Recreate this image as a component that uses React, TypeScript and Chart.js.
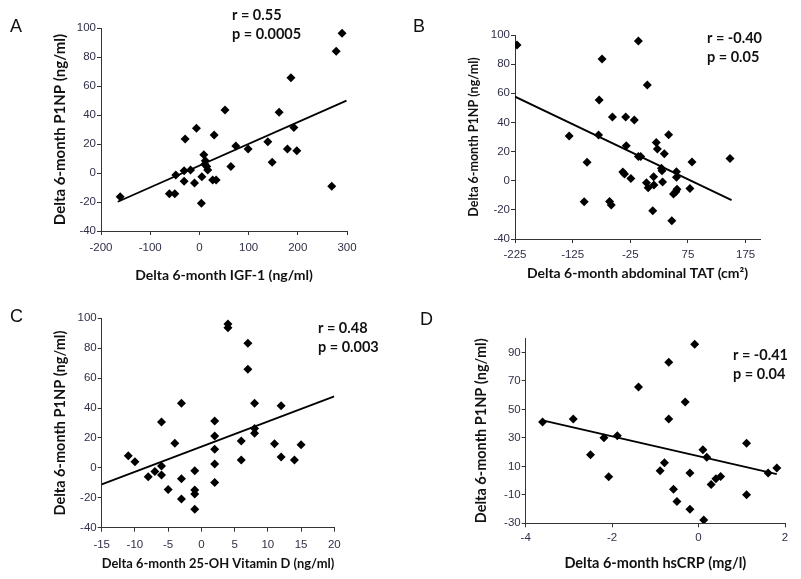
import React, { useEffect, useRef } from 'react';
import { Chart, registerables } from 'chart.js';
Chart.register(...registerables);

// ---------- Panel A: IGF-1 ----------
const aX = [-161, -61, -50, -48, -31, -31, -29, -18, -10, -6, 4, 5, 9, 12, 11, 15, 17, 30, 27, 34, 52, 64, 74, 99, 139, 148, 162, 179, 186, 192, 198, 269, 278, 290];
const aY = [-16.3, -14.3, -14.3, -1.4, 1.6, -5.7, 23.4, 2, -6.9, 30.8, -20.9, -2.5, 12.6, 8.5, 6, 4.5, 2, 26.2, -4.8, -4.8, 43.4, 4.4, 18.6, 16.6, 21.6, 7.4, 41.9, 16.6, 65.7, 31.3, 15.4, -9.2, 84, 96.3];
const aTrendX = [-166, 299];
const aTrendY = [-19.8, 49.9];
const aXTicks = [-200, -100, 0, 100, 200, 300];
const aYTicks = [-40, -20, 0, 20, 40, 60, 80, 100];

// ---------- Panel B: abdominal TAT ----------
const bX = [-221.5, -131, -100, -105, -80, -79, -74, -56, -61, -58, -38, -35, -32, -33, -24, -18, -11, -11, -7, 4.5, 3, 6, 14, 16, 15.5, 20, 22, 30, 29, 31, 34, 41.5, 47, 50, 54, 56, 55, 55, 78.5, 82, 148];
const bY = [93.1, 30.7, 12.6, -14.4, 31.3, 55.4, 83.5, 43.7, -14.2, -16.7, 5.9, 4.6, 24, 43.7, 1.6, 41.6, 95.9, 16.7, 16.7, 65.7, -1.4, -4.8, -20.6, -3, 2.7, 26.3, 21.7, 6.9, 8.5, -0.9, 18.5, 31.6, -27.5, -9.2, -7.5, -5.9, 6.2, 2.3, -5.3, 12.8, 15.3];
const bTrendX = [-225, 150.7];
const bTrendY = [57.7, -13.3];
const bXTicks = [-225, -125, -25, 75, 175];
const bYTicks = [-40, -20, 0, 20, 40, 60, 80, 100];

// ---------- Panel C: 25-OH Vitamin D ----------
const cX = [-11, -10, -8, -7, -6, -6, -6, -5, -4, -3, -3, -3, -1, -1, -1, -1, 2, 2, 2, 2, 2, 4, 4, 6, 6, 7, 7, 8, 8, 8, 11, 12, 12, 14, 15];
const cY = [8.1, 4.1, -5.9, -2.5, 1.2, -4.8, 30.7, -14.4, 16.4, 43.2, -7.2, -20.8, -1.9, -14.8, -17.5, -27.7, 31.3, 21.3, 12.4, 2.6, -9.7, 96.2, 93.7, 17.9, 5.3, 83.3, 65.9, 43.2, 26.4, 23.1, 16.2, 41.6, 7.3, 5.3, 15.5];
const cTrendX = [-15, 20];
const cTrendY = [-11, 47.8];
const cXTicks = [-15, -10, -5, 0, 5, 10, 15, 20];
const cYTicks = [-40, -20, 0, 20, 40, 60, 80, 100];

// ---------- Panel D: hsCRP ----------
const dX = [-3.61, -2.9, -2.5, -2.19, -2.08, -1.88, -1.39, -0.89, -0.79, -0.69, -0.69, -0.58, -0.5, -0.31, -0.2, -0.2, -0.09, 0.1, 0.12, 0.19, 0.29, 0.4, 0.51, 1.11, 1.11, 1.61, 1.81];
const dY = [41.2, 43.3, 18.1, 30.2, 2.7, 31.6, 65.7, 6.9, 12.5, 83.2, 43.3, -6, -14.6, 55.2, -20.2, 5.3, 95.8, 21.6, -27.7, 16.5, -2.7, 1.3, 2.9, 26.3, -10, 5.3, 8.8];
const dTrendX = [-3.61, 1.81];
const dTrendY = [42.4, 4.6];
const dXTicks = [-4, -2, 0, 2];
const dYTicks = [-30, -10, 10, 30, 50, 70, 90];

const Y_TITLE = 'Delta 6-month P1NP (ng/ml)';
const TICK_COLOR = '#2f2f48';
const AXIS_COLOR = '#333333';
const TITLE_FAMILY = 'Lato';

const textPlugin = {
  id: 'panelText',
  afterDraw(chart: any, _args: any, opts: any) {
    const ctx = chart.ctx;
    ctx.save();
    for (const t of opts.items || []) {
      ctx.font = t.font;
      ctx.fillStyle = t.color || '#000';
      ctx.textAlign = 'left';
      ctx.textBaseline = 'middle';
      ctx.fillText(t.text, t.x, t.y);
    }
    ctx.restore();
  },
};

type Panel = {
  left: number; top: number; w: number; h: number;
  plotL: number; plotR: number; plotT: number; plotB: number;
  yTitleX: number; xTitleY: number; xTickY: number;
  yTitleSize: number; xTitleSize: number;
  xs: number[]; ys: number[]; tx: number[]; ty: number[];
  xMin: number; xMax: number; yMin: number; yMax: number;
  xTicks: number[]; yTicks: number[];
  xTitle: string;
  letter: string; letterX: number; letterY: number;
  r: string; p: string; rpX: number; rY: number; pY: number;
};

const TICK_SIZE = 11.5;
const TICK_LEN = 4;

function makeConfig(p: Panel): any {
  const yLine = p.yTitleSize * 1.2;
  const xLine = p.xTitleSize * 1.2;
  const padL = p.yTitleX - yLine / 2;
  const yW = p.plotL - padL;
  const padB = p.h - p.xTitleY - xLine / 2;
  const xH = p.h - padB - p.plotB;
  const xTickPad = p.xTickY - p.plotB - TICK_LEN - (TICK_SIZE * 1.2) / 2;
  return {
    type: 'scatter',
    data: {
      datasets: [
        {
          data: p.xs.map((x, i) => ({ x, y: p.ys[i] })),
          pointStyle: 'rectRot',
          pointRadius: 4.5,
          pointHoverRadius: 4.5,
          backgroundColor: '#000',
          borderColor: '#000',
          borderWidth: 0,
        },
        {
          type: 'line',
          data: p.tx.map((x, i) => ({ x, y: p.ty[i] })),
          borderColor: '#000',
          borderWidth: 1.8,
          pointRadius: 0,
          showLine: true,
          fill: false,
        },
      ],
    },
    options: {
      responsive: false,
      animation: false,
      events: [],
      layout: { padding: { left: padL, right: p.w - p.plotR, top: p.plotT, bottom: padB } },
      plugins: {
        legend: { display: false },
        tooltip: { enabled: false },
        panelText: {
          items: [
            { text: p.letter, x: p.letterX, y: p.letterY, font: '18px "Liberation Sans"', color: '#111' },
            { text: p.r, x: p.rpX, y: p.rY, font: `bold 14.5px ${TITLE_FAMILY}`, color: '#111' },
            { text: p.p, x: p.rpX, y: p.pY, font: `bold 14.5px ${TITLE_FAMILY}`, color: '#111' },
          ],
        },
      },
      scales: {
        x: {
          type: 'linear',
          min: p.xMin,
          max: p.xMax,
          afterBuildTicks: (s: any) => { s.ticks = p.xTicks.map((v) => ({ value: v })); },
          afterFit: (s: any) => { s.height = xH; },
          grid: { display: true, drawOnChartArea: false, drawTicks: true, tickLength: TICK_LEN, color: AXIS_COLOR },
          border: { display: true, color: AXIS_COLOR, width: 1 },
          ticks: { color: TICK_COLOR, font: { family: 'Liberation Sans', size: TICK_SIZE }, padding: xTickPad, maxRotation: 0, autoSkip: false },
          title: { display: true, text: p.xTitle, color: '#111', padding: 0, font: { family: TITLE_FAMILY, weight: 'bold', size: p.xTitleSize } },
        },
        y: {
          type: 'linear',
          min: p.yMin,
          max: p.yMax,
          afterBuildTicks: (s: any) => { s.ticks = p.yTicks.map((v) => ({ value: v })); },
          afterFit: (s: any) => { s.width = yW; },
          grid: { display: true, drawOnChartArea: false, drawTicks: true, tickLength: TICK_LEN, color: AXIS_COLOR },
          border: { display: true, color: AXIS_COLOR, width: 1 },
          ticks: { color: TICK_COLOR, font: { family: 'Liberation Sans', size: TICK_SIZE }, padding: 1, autoSkip: false },
          title: { display: true, text: Y_TITLE, color: '#111', padding: 0, font: { family: TITLE_FAMILY, weight: 'bold', size: p.yTitleSize } },
        },
      },
    },
    plugins: [textPlugin],
  };
}

const panels: Panel[] = [
  {
    left: 0, top: 0, w: 400, h: 290,
    plotL: 101, plotR: 347, plotT: 28, plotB: 231,
    yTitleX: 60, xTitleY: 275, xTickY: 248, yTitleSize: 15, xTitleSize: 14,
    xs: aX, ys: aY, tx: aTrendX, ty: aTrendY,
    xMin: -200, xMax: 300, yMin: -40, yMax: 100, xTicks: aXTicks, yTicks: aYTicks,
    xTitle: 'Delta 6-month IGF-1 (ng/ml)',
    letter: 'A', letterX: 10, letterY: 27,
    r: 'r = 0.55', p: 'p = 0.0005', rpX: 232, rY: 15, pY: 34,
  },
  {
    left: 400, top: 0, w: 401, h: 290,
    plotL: 115, plotR: 360, plotT: 35, plotB: 239,
    yTitleX: 74, xTitleY: 273, xTickY: 255, yTitleSize: 12.5, xTitleSize: 14,
    xs: bX, ys: bY, tx: bTrendX, ty: bTrendY,
    xMin: -225, xMax: 200, yMin: -40, yMax: 100, xTicks: bXTicks, yTicks: bYTicks,
    xTitle: 'Delta 6-month abdominal TAT (cm²)',
    letter: 'B', letterX: 13, letterY: 27,
    r: 'r = -0.40', p: 'p = 0.05', rpX: 307, rY: 38, pY: 57,
  },
  {
    left: 0, top: 290, w: 400, h: 289,
    plotL: 101.7, plotR: 334.3, plotT: 28.3, plotB: 237.7,
    yTitleX: 60, xTitleY: 273, xTickY: 255, yTitleSize: 14.5, xTitleSize: 14,
    xs: cX, ys: cY, tx: cTrendX, ty: cTrendY,
    xMin: -15, xMax: 20, yMin: -40, yMax: 100, xTicks: cXTicks, yTicks: cYTicks,
    xTitle: 'Delta 6-month 25-OH Vitamin D (ng/ml)',
    letter: 'C', letterX: 10, letterY: 27,
    r: 'r = 0.48', p: 'p = 0.003', rpX: 318, rY: 38, pY: 57,
  },
  {
    left: 400, top: 290, w: 401, h: 289,
    plotL: 125.7, plotR: 385, plotT: 48.3, plotB: 233.3,
    yTitleX: 81.7, xTitleY: 273, xTickY: 248, yTitleSize: 14.5, xTitleSize: 14.5,
    xs: dX, ys: dY, tx: dTrendX, ty: dTrendY,
    xMin: -4, xMax: 2, yMin: -30, yMax: 100, xTicks: dXTicks, yTicks: dYTicks,
    xTitle: 'Delta 6-month hsCRP (mg/l)',
    letter: 'D', letterX: 20, letterY: 30,
    r: 'r = -0.41', p: 'p = 0.04', rpX: 333, rY: 65, pY: 84,
  },
];

function PanelChart({ panel }: { panel: Panel }) {
  const ref = useRef<HTMLCanvasElement | null>(null);
  useEffect(() => {
    if (!ref.current) return;
    const chart = new Chart(ref.current, makeConfig(panel));
    return () => chart.destroy();
  }, [panel]);
  return (
    <canvas
      ref={ref}
      width={panel.w}
      height={panel.h}
      style={{ position: 'absolute', left: panel.left, top: panel.top, width: panel.w, height: panel.h }}
    />
  );
}

export default function App() {
  return (
    <div style={{ position: 'absolute', left: 0, top: 0, width: 801, height: 579, background: '#fff', overflow: 'hidden' }}>
      {panels.map((p) => (
        <PanelChart key={p.letter} panel={p} />
      ))}
    </div>
  );
}
